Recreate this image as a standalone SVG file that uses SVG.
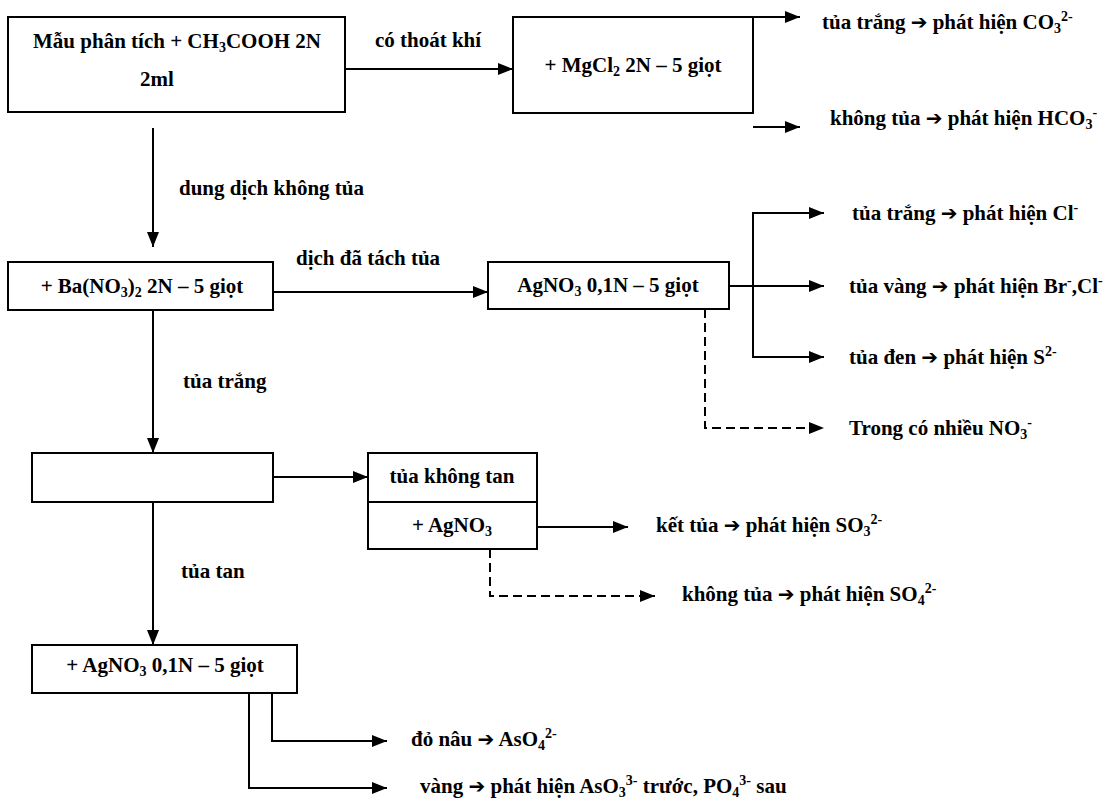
<svg xmlns="http://www.w3.org/2000/svg" width="1115" height="802" viewBox="0 0 1115 802">
<defs>
<style>
.box{fill:#fff;stroke:#000;stroke-width:2}
.t{font-family:"Liberation Serif","Times New Roman",serif;font-weight:bold;font-size:21px;fill:#000}
.c{text-anchor:middle}
.s{font-size:14px}
.a{font-family:"DejaVu Sans",sans-serif;font-size:20px}
.ln{fill:none;stroke:#000;stroke-width:2}
.dash{stroke-dasharray:9 5}
</style>
<marker id="ah" markerWidth="15" markerHeight="12" refX="15" refY="6" orient="auto" markerUnits="userSpaceOnUse"><path d="M0,0 L15,6 L0,12 z" fill="#000"/></marker>
</defs>
<rect width="1115" height="802" fill="#fff"/>

<g id="connectors">
<path class="ln" d="M345,69 H513" marker-end="url(#ah)"/>
<path class="ln" d="M753,17 H800" marker-end="url(#ah)"/>
<path class="ln" d="M753,127 H800" marker-end="url(#ah)"/>
<path class="ln" d="M153,128 V247" marker-end="url(#ah)"/>
<path class="ln" d="M273,292 H488" marker-end="url(#ah)"/>
<path class="ln" d="M753,286 V213 H824" marker-end="url(#ah)"/>
<path class="ln" d="M729,286 H824" marker-end="url(#ah)"/>
<path class="ln" d="M753,286 V357 H824" marker-end="url(#ah)"/>
<path class="ln dash" d="M705,309 V428 H824" marker-end="url(#ah)"/>
<path class="ln" d="M153,310 V453" marker-end="url(#ah)"/>
<path class="ln" d="M273,477 H368" marker-end="url(#ah)"/>
<path class="ln" d="M537,527 H628" marker-end="url(#ah)"/>
<path class="ln dash" d="M490,549 V596 H655" marker-end="url(#ah)"/>
<path class="ln" d="M153,502 V645" marker-end="url(#ah)"/>
<path class="ln" d="M272,693 V741 H387" marker-end="url(#ah)"/>
<path class="ln" d="M249,693 V788 H387" marker-end="url(#ah)"/>
<text class="t c" x="428" y="47">có thoát khí</text>
<text class="t" x="179" y="195">dung dịch không tủa</text>
<text class="t" x="296" y="265">dịch đã tách tủa</text>
<text class="t" x="183" y="388">tủa trắng</text>
<text class="t" x="181" y="578">tủa tan</text>
</g>

<g id="n1">
<rect class="box" x="8" y="17" width="337" height="95"/>
<text class="t c" x="177" y="48">Mẫu phân tích + CH<tspan class="s" dy="4">3</tspan><tspan dy="-4">COOH 2N</tspan></text>
<text class="t c" x="157" y="86">2ml</text>
</g>

<g id="n2">
<rect class="box" x="513" y="17" width="240" height="96"/>
<text class="t c" x="633" y="72">+ MgCl<tspan class="s" dy="4">2</tspan><tspan dy="-4"> 2N – 5 giọt</tspan></text>
</g>

<g id="r_co3">
<text class="t" x="822" y="29">tủa trắng <tspan class="a">➔</tspan> phát hiện CO<tspan class="s" dy="4">3</tspan><tspan class="s" dy="-12">2-</tspan></text>
</g>
<g id="r_hco3">
<text class="t" x="830" y="125">không tủa <tspan class="a">➔</tspan> phát hiện HCO<tspan class="s" dy="4">3</tspan><tspan class="s" dy="-12">-</tspan></text>
</g>

<g id="n3">
<rect class="box" x="8" y="262" width="265" height="48"/>
<text class="t c" x="142" y="293">+ Ba(NO<tspan class="s" dy="4">3</tspan><tspan dy="-4">)</tspan><tspan class="s" dy="4">2</tspan><tspan dy="-4"> 2N – 5 giọt</tspan></text>
</g>

<g id="n4">
<rect class="box" x="488" y="262" width="241" height="47"/>
<text class="t c" x="608" y="292">AgNO<tspan class="s" dy="4">3</tspan><tspan dy="-4"> 0,1N – 5 giọt</tspan></text>
</g>

<g id="r_cl">
<text class="t" x="852" y="220">tủa trắng <tspan class="a">➔</tspan> phát hiện Cl<tspan class="s" dy="-8">-</tspan></text>
</g>
<g id="r_br">
<text class="t" x="849" y="293">tủa vàng <tspan class="a">➔</tspan> phát hiện Br<tspan class="s" dy="-8">-</tspan><tspan dy="8">,Cl</tspan><tspan class="s" dy="-8">-</tspan></text>
</g>
<g id="r_s">
<text class="t" x="849" y="364">tủa đen <tspan class="a">➔</tspan> phát hiện S<tspan class="s" dy="-8">2-</tspan></text>
</g>
<g id="r_no3">
<text class="t" x="849" y="435">Trong có nhiều NO<tspan class="s" dy="4">3</tspan><tspan class="s" dy="-12">-</tspan></text>
</g>

<g id="n5">
<rect class="box" x="32" y="453" width="241" height="49"/>
</g>

<g id="n6">
<rect class="box" x="368" y="453" width="169" height="96"/>
<line class="ln" x1="368" y1="502" x2="537" y2="502"/>
<text class="t c" x="452" y="483">tủa không tan</text>
<text class="t c" x="452" y="532">+ AgNO<tspan class="s" dy="4">3</tspan></text>
</g>

<g id="r_so3">
<text class="t" x="656" y="532">kết tủa <tspan class="a">➔</tspan> phát hiện SO<tspan class="s" dy="4">3</tspan><tspan class="s" dy="-12">2-</tspan></text>
</g>
<g id="r_so4">
<text class="t" x="682" y="601">không tủa <tspan class="a">➔</tspan> phát hiện SO<tspan class="s" dy="4">4</tspan><tspan class="s" dy="-12">2-</tspan></text>
</g>

<g id="n7">
<rect class="box" x="32" y="645" width="265" height="48"/>
<text class="t c" x="165" y="672">+ AgNO<tspan class="s" dy="4">3</tspan><tspan dy="-4"> 0,1N – 5 giọt</tspan></text>
</g>

<g id="r_aso4">
<text class="t" x="411" y="746">đỏ nâu <tspan class="a">➔</tspan> AsO<tspan class="s" dy="4">4</tspan><tspan class="s" dy="-12">2-</tspan></text>
</g>
<g id="r_aso3">
<text class="t" x="420" y="793">vàng <tspan class="a">➔</tspan> phát hiện AsO<tspan class="s" dy="4">3</tspan><tspan class="s" dy="-12">3-</tspan><tspan dy="8"> trước, PO</tspan><tspan class="s" dy="4">4</tspan><tspan class="s" dy="-12">3-</tspan><tspan dy="8"> sau</tspan></text>
</g>
</svg>
